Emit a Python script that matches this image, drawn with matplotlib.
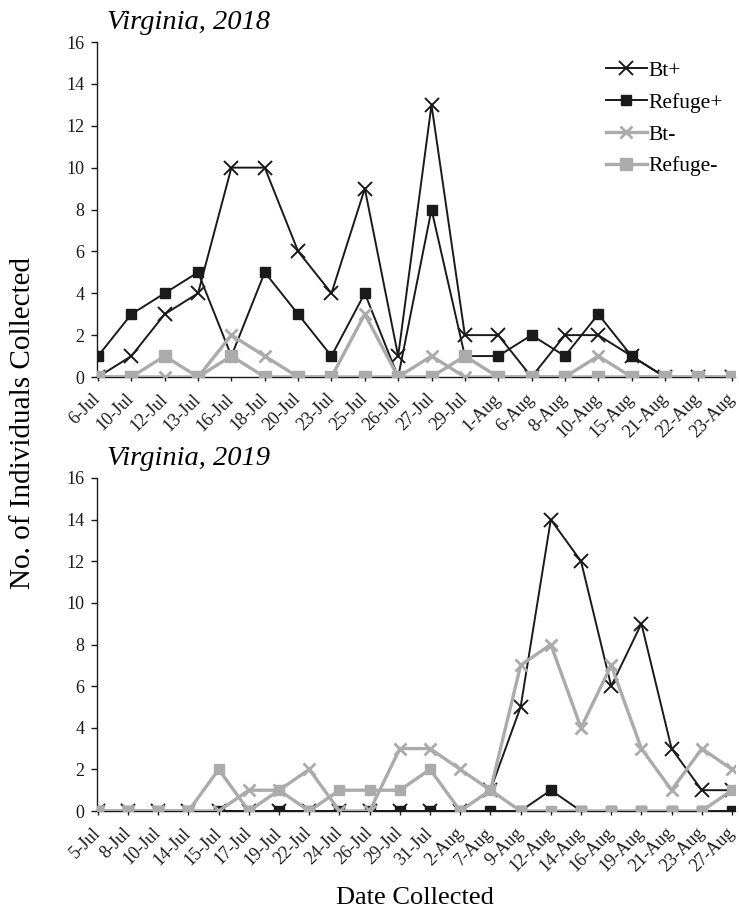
import matplotlib
matplotlib.use('Agg')
import matplotlib.pyplot as plt
import numpy as np

plt.rcParams['font.family'] = ['Liberation Serif', 'DejaVu Serif']

# 2018 data
dates_2018 = ['6-Jul', '10-Jul', '12-Jul', '13-Jul', '16-Jul', '18-Jul', '20-Jul', '23-Jul',
              '25-Jul', '26-Jul', '27-Jul', '29-Jul', '1-Aug', '6-Aug', '8-Aug', '10-Aug',
              '15-Aug', '21-Aug', '22-Aug', '23-Aug']
bt_pos_2018 = [0, 1, 3, 4, 10, 10, 6, 4, 9, 1, 13, 2, 2, 0, 2, 2, 1, 0, 0, 0]
ref_pos_2018 = [1, 3, 4, 5, 1, 5, 3, 1, 4, 0, 8, 1, 1, 2, 1, 3, 1, 0, 0, 0]
bt_neg_2018 = [0, 0, 0, 0, 2, 1, 0, 0, 3, 0, 1, 0, 0, 0, 0, 1, 0, 0, 0, 0]
ref_neg_2018 = [0, 0, 1, 0, 1, 0, 0, 0, 0, 0, 0, 1, 0, 0, 0, 0, 0, 0, 0, 0]

# 2019 data
dates_2019 = ['5-Jul', '8-Jul', '10-Jul', '14-Jul', '15-Jul', '17-Jul', '19-Jul', '22-Jul',
              '24-Jul', '26-Jul', '29-Jul', '31-Jul', '2-Aug', '7-Aug', '9-Aug', '12-Aug',
              '14-Aug', '16-Aug', '19-Aug', '21-Aug', '23-Aug', '27-Aug']
bt_pos_2019 = [0, 0, 0, 0, 0, 0, 0, 0, 0, 0, 0, 0, 0, 1, 5, 14, 12, 6, 9, 3, 1, 1]
ref_pos_2019 = [0, 0, 0, 0, 0, 0, 0, 0, 0, 0, 0, 0, 0, 0, 0, 1, 0, 0, 0, 0, 0, 0]
bt_neg_2019 = [0, 0, 0, 0, 0, 1, 1, 2, 0, 0, 3, 3, 2, 1, 7, 8, 4, 7, 3, 1, 3, 2]
ref_neg_2019 = [0, 0, 0, 0, 2, 0, 1, 0, 1, 1, 1, 2, 0, 1, 0, 0, 0, 0, 0, 0, 0, 1]

BLACK = '#1a1a1a'
GRAY = '#ababab'

W, H = 739, 915
fig = plt.figure(figsize=(W / 100, H / 100), dpi=100)


def panel(rect, dates, series, title, gray_sq):
    ax = fig.add_axes(rect)
    x = np.arange(len(dates))
    bp, rp, bn, rn = series
    ax.plot(x, bp, color=BLACK, lw=1.4, marker='x', ms=10, mew=1.4, label='Bt+', zorder=3)
    ax.plot(x, rp, color=BLACK, lw=1.4, marker='s', ms=7.5, mec=BLACK, label='Refuge+', zorder=3)
    ax.plot(x, bn, color=GRAY, lw=2.4, marker='x', ms=9, mew=2, label='Bt-', zorder=4)
    ax.plot(x, rn, color=GRAY, lw=2.4, marker='s', ms=gray_sq, mec=GRAY, label='Refuge-', zorder=4)
    ax.set_ylim(0, 16)
    ax.set_yticks(np.arange(0, 17, 2))
    ax.set_xlim(-0.03, len(dates) - 1 + 0.1)
    ax.set_xticks(x)
    ax.set_xticklabels(dates, rotation=45, ha='right', va='center', rotation_mode='anchor',
                       fontsize=13)
    for s in ['top', 'right']:
        ax.spines[s].set_visible(False)
    for s in ['left', 'bottom']:
        ax.spines[s].set_color(BLACK)
        ax.spines[s].set_linewidth(1.0)
    ax.tick_params(axis='y', labelsize=13, length=4, width=1, colors=BLACK, pad=5)
    ax.tick_params(axis='x', length=3, width=1, colors=BLACK, pad=11)
    ax.text(0.016, 1.02, title, transform=ax.transAxes, fontsize=20.5, fontstyle='italic',
            ha='left', va='bottom')
    return ax


ax1 = panel([97 / W, 1 - 377 / H, 638 / W, 335 / H], dates_2018,
            [bt_pos_2018, ref_pos_2018, bt_neg_2018, ref_neg_2018], 'Virginia, 2018', 8.5)
ax2 = panel([97 / W, 1 - 811 / H, 638 / W, 333 / H], dates_2019,
            [bt_pos_2019, ref_pos_2019, bt_neg_2019, ref_neg_2019], 'Virginia, 2019', 7)

ax1.legend(loc='upper right', bbox_to_anchor=(0.995, 0.97), frameon=False, fontsize=15.5,
           handlelength=1.9, handletextpad=0.1, labelspacing=0.55, borderaxespad=0)

fig.text(23 / W, 1 - 423 / H, 'No. of Individuals Collected', rotation=90, fontsize=21,
         ha='center', va='center')
fig.text(415 / W, 1 - 898 / H, 'Date Collected', fontsize=19, ha='center', va='center')

fig.savefig('out.png', dpi=100)
